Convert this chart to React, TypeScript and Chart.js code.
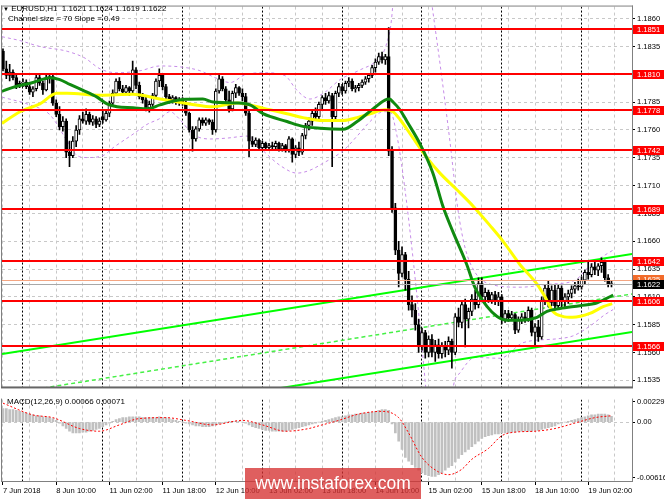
import React, { useEffect, useRef } from "react";
import { Chart, registerables } from "chart.js";

Chart.register(...registerables);

const FONT = '"Liberation Sans", Arial, sans-serif';

// ---------------- DATA (EURUSD H1, bar 0 = 7 Jun 18:00) ----------------
const openPrices = [
  1.1831, 1.1815, 1.1809, 1.1812, 1.1807, 1.18, 1.1802, 1.1803, 1.1799, 1.1794,
  1.1797, 1.1807, 1.1802, 1.1796, 1.1806, 1.1808, 1.1784, 1.1774, 1.1763, 1.1768,
  1.174, 1.1737, 1.175, 1.176, 1.177, 1.1768, 1.1774, 1.1767, 1.177, 1.1765,
  1.1772, 1.1769, 1.1775, 1.1784, 1.1793, 1.1804, 1.1797, 1.1794, 1.1798, 1.1795,
  1.1814, 1.18, 1.179, 1.1787, 1.178, 1.1783, 1.1791, 1.1804, 1.1809, 1.1799,
  1.179, 1.1787, 1.1789, 1.1785, 1.1787, 1.1784, 1.1775, 1.176, 1.1752, 1.1761,
  1.1769, 1.1766, 1.1769, 1.1767, 1.176, 1.1795, 1.1806, 1.1797, 1.1787, 1.1779,
  1.1793, 1.1798, 1.1793, 1.179, 1.1775, 1.175, 1.1747, 1.1751, 1.1744, 1.1748,
  1.1744, 1.1746, 1.1745, 1.1748, 1.1743, 1.1746, 1.1742, 1.1752, 1.1738, 1.1744,
  1.174, 1.1755, 1.1764, 1.1768, 1.1775, 1.1772, 1.1783, 1.1789, 1.1786, 1.1791,
  1.1772, 1.1793, 1.1799, 1.1795, 1.1802, 1.1804, 1.1797, 1.1798, 1.18, 1.1803,
  1.1806, 1.1809, 1.1816, 1.1821, 1.1826, 1.1823, 1.1826, 1.1741, 1.169, 1.1652,
  1.1631, 1.1648, 1.1626, 1.1603, 1.1598, 1.1585, 1.1566, 1.1578, 1.156, 1.1572,
  1.156, 1.1567, 1.1559, 1.1566, 1.1562, 1.157, 1.156, 1.1592, 1.1587, 1.1603,
  1.159, 1.1597, 1.1608, 1.1603, 1.1622, 1.161, 1.1614, 1.1607, 1.1612, 1.1606,
  1.161, 1.159, 1.1595, 1.1591, 1.1594, 1.158, 1.1589, 1.1592, 1.159, 1.1598,
  1.1578, 1.1583, 1.1574, 1.1607, 1.1618, 1.1605, 1.1616, 1.1602, 1.1618, 1.1606,
  1.161, 1.1613, 1.1617, 1.162, 1.1619, 1.1625, 1.1632, 1.163, 1.1637, 1.1634,
  1.1638, 1.1641, 1.1627, 1.1621,
];
const highPrices = [
  1.1833, 1.1822, 1.1819, 1.1814, 1.1811, 1.1804, 1.1806, 1.1805, 1.1801, 1.1799,
  1.181, 1.1809, 1.1804, 1.1809, 1.1811, 1.181, 1.1787, 1.1781, 1.1772, 1.177,
  1.175, 1.1754, 1.1764, 1.1773, 1.1776, 1.1779, 1.1776, 1.1773, 1.1772, 1.1771,
  1.1777, 1.1777, 1.1786, 1.1796, 1.1806, 1.1807, 1.18, 1.18, 1.1799, 1.1822,
  1.1816, 1.1803, 1.1793, 1.179, 1.1786, 1.1793, 1.1806, 1.1815, 1.1811, 1.1801,
  1.1792, 1.1791, 1.179, 1.1789, 1.1789, 1.1786, 1.1776, 1.1763, 1.1763, 1.1771,
  1.1771, 1.1771, 1.177, 1.1769, 1.1797, 1.1811, 1.1808, 1.1799, 1.1795, 1.1795,
  1.1801, 1.1799, 1.1797, 1.1793, 1.1777, 1.1754, 1.1753, 1.1752, 1.175, 1.1749,
  1.1748, 1.1749, 1.175, 1.1749, 1.1748, 1.1747, 1.1754, 1.1753, 1.1746, 1.1749,
  1.1757, 1.1766, 1.1771, 1.1777, 1.178, 1.1785, 1.1791, 1.1793, 1.1794, 1.1793,
  1.1795, 1.1802, 1.1801, 1.1804, 1.1807, 1.1806, 1.18, 1.1802, 1.1805, 1.1808,
  1.1811, 1.1818, 1.1824, 1.1829, 1.183, 1.1828, 1.1852, 1.1745, 1.1694, 1.166,
  1.1655, 1.165, 1.1633, 1.1611, 1.1604, 1.159, 1.1582, 1.158, 1.1575, 1.1576,
  1.1571, 1.1572, 1.1569, 1.157, 1.1574, 1.1572, 1.1595, 1.16, 1.1606, 1.1608,
  1.16, 1.1612, 1.1616, 1.1627, 1.1627, 1.1618, 1.1616, 1.1614, 1.1615, 1.1614,
  1.1612, 1.1598, 1.1598, 1.1597, 1.1595, 1.1592, 1.1595, 1.1596, 1.1601, 1.16,
  1.1586, 1.1589, 1.161, 1.1621, 1.1624, 1.162, 1.1621, 1.1621, 1.162, 1.1613,
  1.1616, 1.162, 1.1623, 1.1626, 1.1628, 1.1634, 1.1642, 1.164, 1.1641, 1.164,
  1.1645, 1.1643, 1.163, 1.1624,
];
const lowPrices = [
  1.1813, 1.1806, 1.1804, 1.1805, 1.1797, 1.1798, 1.1799, 1.1797, 1.1792, 1.179,
  1.1795, 1.18, 1.1792, 1.1795, 1.1802, 1.1782, 1.1772, 1.176, 1.1759, 1.1735,
  1.1727, 1.1735, 1.1745, 1.1756, 1.1766, 1.1765, 1.1765, 1.1764, 1.1762, 1.1763,
  1.1766, 1.1768, 1.1772, 1.1782, 1.1791, 1.1795, 1.1792, 1.1792, 1.1791, 1.1793,
  1.1797, 1.1788, 1.1784, 1.1777, 1.1776, 1.1779, 1.1789, 1.1799, 1.1796, 1.1788,
  1.1784, 1.1784, 1.1783, 1.1782, 1.1782, 1.1773, 1.1758, 1.1741, 1.175, 1.1759,
  1.1764, 1.1764, 1.1765, 1.1756, 1.1758, 1.1793, 1.1795, 1.1785, 1.1776, 1.1777,
  1.1789, 1.1791, 1.1786, 1.1773, 1.1736, 1.1745, 1.1745, 1.1742, 1.1742, 1.1742,
  1.1742, 1.1743, 1.1743, 1.1741, 1.1741, 1.174, 1.174, 1.1731, 1.1735, 1.1737,
  1.1738, 1.1752, 1.176, 1.1764, 1.1769, 1.177, 1.1779, 1.1783, 1.1784, 1.1727,
  1.177, 1.179, 1.1792, 1.1793, 1.1799, 1.1795, 1.1794, 1.1795, 1.1798, 1.1801,
  1.1803, 1.1807, 1.1812, 1.1819, 1.182, 1.1819, 1.1737, 1.1686, 1.1648, 1.1619,
  1.1628, 1.1616, 1.1598, 1.1592, 1.158, 1.156, 1.1562, 1.1555, 1.1556, 1.1556,
  1.1552, 1.1555, 1.1555, 1.1556, 1.1558, 1.1546, 1.1558, 1.1583, 1.1582, 1.1565,
  1.1582, 1.1593, 1.1599, 1.16, 1.1606, 1.1604, 1.1605, 1.1604, 1.1603, 1.1602,
  1.1586, 1.1587, 1.1588, 1.1589, 1.1577, 1.1578, 1.1586, 1.1587, 1.1588, 1.1575,
  1.1567, 1.157, 1.1572, 1.1603, 1.1601, 1.1602, 1.1598, 1.16, 1.1601, 1.16,
  1.1604, 1.1609, 1.1613, 1.1616, 1.1617, 1.1621, 1.1626, 1.1628, 1.163, 1.1629,
  1.1632, 1.1624, 1.1619, 1.1619,
];
const closePrices = [
  1.1815, 1.1809, 1.1812, 1.1807, 1.18, 1.1802, 1.1803, 1.1799, 1.1794, 1.1797,
  1.1807, 1.1802, 1.1796, 1.1806, 1.1808, 1.1784, 1.1774, 1.1763, 1.1768, 1.174,
  1.1737, 1.175, 1.176, 1.177, 1.1768, 1.1774, 1.1767, 1.177, 1.1765, 1.1768,
  1.1769, 1.1775, 1.1784, 1.1793, 1.1804, 1.1797, 1.1794, 1.1798, 1.1795, 1.1814,
  1.18, 1.179, 1.1787, 1.178, 1.1783, 1.1791, 1.1804, 1.1809, 1.1799, 1.179,
  1.1787, 1.1789, 1.1785, 1.1787, 1.1784, 1.1775, 1.176, 1.1752, 1.1761, 1.1769,
  1.1766, 1.1769, 1.1767, 1.176, 1.1795, 1.1806, 1.1797, 1.1787, 1.1779, 1.1793,
  1.1798, 1.1793, 1.179, 1.1775, 1.175, 1.1747, 1.1751, 1.1744, 1.1748, 1.1744,
  1.1746, 1.1745, 1.1748, 1.1743, 1.1746, 1.1742, 1.1752, 1.1738, 1.1744, 1.174,
  1.1755, 1.1764, 1.1768, 1.1775, 1.1772, 1.1783, 1.1789, 1.1786, 1.1791, 1.1772,
  1.1793, 1.1799, 1.1795, 1.1802, 1.1804, 1.1797, 1.1798, 1.18, 1.1803, 1.1806,
  1.1809, 1.1816, 1.1821, 1.1826, 1.1823, 1.1826, 1.1741, 1.169, 1.1652, 1.1631,
  1.1648, 1.1626, 1.1603, 1.1598, 1.1585, 1.1566, 1.1578, 1.156, 1.1572, 1.156,
  1.1567, 1.1559, 1.1566, 1.1562, 1.157, 1.156, 1.1592, 1.1587, 1.1603, 1.159,
  1.1597, 1.1608, 1.1603, 1.1622, 1.161, 1.1614, 1.1607, 1.1612, 1.1606, 1.161,
  1.159, 1.1595, 1.1591, 1.1594, 1.158, 1.1589, 1.1592, 1.159, 1.1598, 1.1578,
  1.1583, 1.1574, 1.1607, 1.1618, 1.1605, 1.1616, 1.1602, 1.1618, 1.1606, 1.161,
  1.1613, 1.1617, 1.162, 1.1619, 1.1625, 1.1632, 1.163, 1.1637, 1.1634, 1.1638,
  1.1641, 1.1627, 1.1621, 1.1622,
];

// MACD(12,26,9) main values (histogram), one per bar
const macdMain = [
  0.0015, 0.0015, 0.0014, 0.0014, 0.0013, 0.0012, 0.0011, 0.001, 0.0009, 0.0008,
  0.0007, 0.0007, 0.0006, 0.0006, 0.0005, 0.0004,
  0.0002, -0.0001, -0.0004, -0.0007, -0.001, -0.0012,
  -0.0012, -0.0012, -0.0011, -0.0011, -0.001,
  -0.0009, -0.0008, -0.0007, -0.0005, -0.0003, -0.0001,
  0.0001, 0.0003, 0.0004, 0.0005, 0.0005,
  0.0006, 0.0006, 0.0006, 0.0006, 0.0005, 0.0005, 0.0005, 0.0005, 0.0005, 0.0006, 0.0005, 0.0005,
  0.0004, 0.0003, 0.0002, 0.0001, 0.0, -0.0001,
  -0.0002, -0.0003, -0.0004, -0.0004, -0.0005, -0.0005, -0.0005, -0.0004,
  -0.0003, -0.0002, -0.0001, 0.0, 0.0001, 0.0001, 0.0001, 0.0001, 0.0,
  -0.0001, -0.0003, -0.0005, -0.0006, -0.0007, -0.0008, -0.0009,
  -0.0009, -0.001, -0.001, -0.001, -0.001, -0.001, -0.0009, -0.0008,
  -0.0007, -0.0006, -0.0005, -0.0004, -0.0003, -0.0002, -0.0001, 0.0,
  0.0001, 0.0002, 0.0003, 0.0004, 0.0005, 0.0006, 0.0006, 0.0007, 0.0008, 0.0008, 0.0009, 0.0009,
  0.001, 0.001, 0.0011, 0.0011, 0.0012, 0.0013, 0.0014, 0.0014, 0.0013,
  -0.0002, -0.0012, -0.0021, -0.003, -0.0039, -0.0043, -0.0047, -0.005, -0.0053, -0.0056, -0.0058, -0.0059, -0.006, -0.006,
  -0.0058, -0.0056, -0.0053, -0.005, -0.0048, -0.0044, -0.004, -0.0036, -0.0033, -0.003, -0.0027, -0.0024, -0.0021, -0.0018, -0.0016, -0.0015, -0.0014,
  -0.0013, -0.0013, -0.0012, -0.0012, -0.0012, -0.0011, -0.0011, -0.001, -0.001, -0.001, -0.001, -0.001,
  -0.0009, -0.0009, -0.0008, -0.0007, -0.0006, -0.0005, -0.0004, -0.0002,
  -0.0001, 0.0, 0.0001, 0.0002, 0.0003, 0.0004, 0.0005, 0.0006,
  0.0007, 0.0008, 0.0008, 0.0009, 0.0009, 0.0009, 0.0008, 0.00066,
];

// MACD signal line, read at [bar, value]
const macdSignal = [
  [0, 0.0021], [9, 0.0008], [15, 0.0005], [23, -0.0007], [29, -0.001], [35, -0.0003],
  [41, 0.0004], [49, 0.0005], [55, 0.0002], [63, -0.0003], [72, 0.0002], [78, -0.0003],
  [85, -0.001], [92, -0.0007], [95, -0.0004], [101, 0.0002], [107, 0.0009], [114, 0.0012],
  [119, 0.0005], [122, -0.0012], [126, -0.0039], [131, -0.0055], [134, -0.0058],
  [138, -0.0052], [141, -0.0041], [146, -0.0029], [150, -0.0015], [154, -0.0011],
  [160, -0.001], [166, -0.0007], [172, -0.0001], [178, 0.0005], [183, 0.00071],
];

// Moving averages read at [bar, price]
const maGreen = [
  [-0.3, 1.17948], [3.0, 1.17983], [9.0, 1.18026], [14.1, 1.1807], [17.1, 1.18053],
  [20.1, 1.18009], [24.1, 1.17956], [28.3, 1.17895], [31.3, 1.17834], [34.3, 1.17808],
  [39.1, 1.17799], [43.3, 1.1779], [47.2, 1.17825], [50.2, 1.17851], [55.0, 1.17875],
  [60.1, 1.17878], [63.2, 1.17851], [70.4, 1.17843], [74.3, 1.17825], [78.2, 1.17746],
  [85.4, 1.17676], [90.2, 1.17632], [95.3, 1.17615], [102.3, 1.17606], [106.5, 1.17676],
  [111.3, 1.1779], [114.9, 1.17869], [116.2, 1.17878], [117.3, 1.17851], [119.4, 1.17781],
  [121.5, 1.17676], [125.4, 1.17475], [129.3, 1.17212], [132.3, 1.16914], [135.3, 1.16686],
  [139.5, 1.16389], [141.9, 1.16187], [145.6, 1.16012], [148.6, 1.15924], [151.6, 1.1589],
  [155.5, 1.1589], [160.6, 1.15916], [163.6, 1.15969], [167.5, 1.15995], [173.5, 1.16021],
  [178.7, 1.16047], [183.5, 1.16117],
];
const maYellow = [
  [-0.3, 1.17659], [5.1, 1.17764], [11.1, 1.17834], [16.2, 1.1793], [19.3, 1.1793],
  [29.2, 1.17913], [39.1, 1.17921], [47.2, 1.17878], [56.2, 1.17834], [63.2, 1.17808],
  [70.4, 1.17843], [74.3, 1.17825], [80.3, 1.17781], [85.4, 1.17746], [90.2, 1.17711],
  [96.2, 1.17685], [102.3, 1.17685], [106.5, 1.17711], [110.4, 1.17746], [114.9, 1.17781],
  [117.3, 1.17764], [119.4, 1.17694], [123.3, 1.17528], [127.5, 1.17352], [131.4, 1.17212],
  [136.5, 1.17063], [141.4, 1.16915], [146.5, 1.1674], [150.4, 1.16599], [155.5, 1.16389],
  [160.6, 1.16214], [163.0, 1.161], [165.4, 1.15969], [168.3, 1.15925], [171.3, 1.15916],
  [176.5, 1.15951], [180.5, 1.16012], [183.2, 1.16039],
];

// Bollinger-style envelope (violet dashed), read at [bar, price]
const bandUpperA = [
  [-0.3, 1.18438], [5.1, 1.18403], [11.1, 1.1835], [19.3, 1.18307], [24.7, 1.18245],
  [29.2, 1.18149], [34.3, 1.18114], [41.2, 1.18132], [47.2, 1.18175], [53.2, 1.18167],
  [59.3, 1.18132], [63.8, 1.1807], [68.3, 1.18026], [72.8, 1.18096], [78.8, 1.18114],
  [84.8, 1.18088], [88.4, 1.17956], [92.3, 1.17878], [96.8, 1.17939], [101.4, 1.18053],
  [107.4, 1.1814], [112.5, 1.18228], [115.2, 1.18359], [117.0, 1.1864], [117.9, 1.19077],
];
const bandUpperB = [
  [127.5, 1.19077], [129.0, 1.18727], [131.4, 1.18202], [134.4, 1.17501], [136.8, 1.16888],
  [139.0, 1.16538], [142.0, 1.16319], [146.5, 1.16214], [155.5, 1.16187], [164.5, 1.16214],
  [172.0, 1.16249], [176.5, 1.1638], [181.1, 1.16477], [183.5, 1.1652],
];
const bandLowerA = [
  [-0.3, 1.17895], [8.1, 1.17825], [14.1, 1.17737], [19.3, 1.17501], [22.3, 1.1737],
  [25.3, 1.17352], [30.1, 1.1737], [33.1, 1.1744], [39.1, 1.17562], [43.3, 1.1765],
  [47.2, 1.17703], [50.2, 1.17764], [53.2, 1.17694], [57.1, 1.17562], [62.3, 1.17519],
  [67.4, 1.17527], [73.4, 1.17545], [78.2, 1.17414], [83.3, 1.17282], [88.4, 1.17212],
  [92.3, 1.17238], [96.2, 1.173], [102.3, 1.17414], [106.5, 1.17545], [110.4, 1.17676],
  [114.3, 1.17764], [116.4, 1.17764], [118.5, 1.17545], [120.9, 1.17063], [123.3, 1.1645],
  [125.4, 1.15837], [127.2, 1.15267], [128.4, 1.14873],
];
const bandLowerB = [
  [134.4, 1.14873], [135.3, 1.15267], [137.4, 1.15416], [142.0, 1.15556], [149.5, 1.15548],
  [156.4, 1.15688], [166.6, 1.15723], [171.4, 1.15749], [176.5, 1.15837], [181.1, 1.15942],
  [183.5, 1.15986],
];

// Regression channel (Channel size = 70, Slope = 0.49), ends at [bar, price]
const channelUpper = [[-0.3, 1.15586], [189.2, 1.16485]];
const channelMiddle = [[-0.3, 1.15221], [189.2, 1.16126]];
const channelLower = [[-0.3, 1.14881], [189.2, 1.15785]];

// Horizontal levels, quotes, axes
const levelPrices = [1.1851, 1.181, 1.1778, 1.1742, 1.1689, 1.1642, 1.1606, 1.1566];
const bidPrice = 1.1622;
const askPrice = 1.1625;
const priceTicks = [
  1.1535, 1.156, 1.1585, 1.161, 1.1635, 1.166, 1.1685, 1.171, 1.1735, 1.176, 1.1785,
  1.181, 1.1835, 1.186,
];
const macdTicks = [-0.00616, 0, 0.00229];
const macdTickLabels = ["-0.00616", "0.00", "0.00229"];
const timeTicks = [0, 16, 32, 48, 64, 80, 96, 112, 128, 144, 160, 176];
const timeLabels = [
  "7 Jun 2018", "8 Jun 10:00", "11 Jun 02:00", "11 Jun 18:00", "12 Jun 10:00",
  "13 Jun 02:00", "13 Jun 18:00", "14 Jun 10:00", "15 Jun 02:00", "15 Jun 18:00",
  "18 Jun 10:00", "19 Jun 02:00",
];
const daySeparators = [6, 30, 54, 78, 102, 126, 150, 174];
const headerText = "EURUSD,H1  1.1621 1.1624 1.1619 1.1622";
const channelText = "Channel size = 70 Slope = 0.49";
const macdText = "MACD(12,26,9) 0.00066 0.00071";
const watermarkText = "www.instaforex.com";

// ---------------- LAYOUT ----------------
const X_MIN = -0.3;
const X_MAX = 189.17;
const PRICE_MIN = 1.15286;
const PRICE_MAX = 1.18709;
const MACD_MIN = -0.0065;
const MACD_MAX = 0.0025;
const GRID_STEP = 8;
const AXIS_W = 33;
const TICK_FONT = { family: FONT, size: 7.6 };

const pts = (arr: number[][]) => arr.map(([x, y]) => ({ x, y }));

function gridTicks(scale: any) {
  const t: { value: number }[] = [];
  for (let v = 0; v <= closePrices.length; v += GRID_STEP) t.push({ value: v });
  scale.ticks = t;
}

function clipArea(ctx: any, a: any) {
  ctx.beginPath();
  ctx.rect(a.left, a.top, a.right - a.left, a.bottom - a.top);
  ctx.clip();
}

function drawSeparators(chart: any) {
  const { ctx, chartArea: a, scales } = chart;
  ctx.save();
  clipArea(ctx, a);
  ctx.strokeStyle = "#000";
  ctx.lineWidth = 1;
  ctx.setLineDash([2, 2]);
  for (const i of daySeparators) {
    const x = Math.floor(scales.x.getPixelForValue(i)) + 0.5;
    ctx.beginPath();
    ctx.moveTo(x, a.top);
    ctx.lineTo(x, a.bottom);
    ctx.stroke();
  }
  ctx.restore();
}

function tag(ctx: any, x: number, y: number, text: string, bg: string) {
  const yy = Math.round(y);
  ctx.fillStyle = bg;
  ctx.fillRect(x, yy - 4, 31, 9);
  ctx.fillStyle = "#fff";
  ctx.font = `7.6px ${FONT}`;
  ctx.textAlign = "left";
  ctx.textBaseline = "middle";
  ctx.fillText(text, x + 4, yy + 0.5);
}

const pricePlugin = {
  id: "pricePlugin",
  beforeDatasetsDraw: drawSeparators,
  afterDatasetsDraw(chart: any) {
    const { ctx, chartArea: a, scales } = chart;
    const ys = scales.y;
    ctx.save();
    clipArea(ctx, a);
    ctx.setLineDash([]);
    const hline = (p: number, color: string, w: number) => {
      const y = w % 2 ? Math.round(ys.getPixelForValue(p)) + 0.5 : Math.round(ys.getPixelForValue(p));
      ctx.strokeStyle = color;
      ctx.lineWidth = w;
      ctx.beginPath();
      ctx.moveTo(a.left, y);
      ctx.lineTo(a.right, y);
      ctx.stroke();
    };
    hline(askPrice, "#F4A582", 1);
    hline(bidPrice, "#A8A8A8", 1);
    for (const p of levelPrices) hline(p, "#FF0000", 2);
    ctx.restore();
  },
  afterDraw(chart: any) {
    const { ctx, chartArea: a, scales } = chart;
    const ys = scales.y;
    ctx.save();
    ctx.fillStyle = "#808080";
    ctx.fillRect(a.left - 1, a.top - 1, 1, a.bottom - a.top + 1);
    ctx.fillRect(a.right, a.top - 1, 1, a.bottom - a.top + 1);
    ctx.fillRect(a.left - 1, a.top - 1, a.right - a.left + 2, 1);
    ctx.fillStyle = "#666";
    ctx.fillRect(a.left - 1, a.bottom - 1, a.right - a.left + 2, 2);
    const x = a.right + 1;
    tag(ctx, x, ys.getPixelForValue(askPrice) - 1, askPrice.toFixed(4), "#F26B2A");
    tag(ctx, x, ys.getPixelForValue(bidPrice), bidPrice.toFixed(4), "#000");
    for (const p of levelPrices) tag(ctx, x, ys.getPixelForValue(p), p.toFixed(4), "#FF0000");
    ctx.restore();
  },
};

const macdPlugin = {
  id: "macdPlugin",
  beforeDatasetsDraw: drawSeparators,
  afterDraw(chart: any) {
    const { ctx, chartArea: a } = chart;
    ctx.save();
    ctx.fillStyle = "#808080";
    ctx.fillRect(a.left - 1, a.top - 1, 1, a.bottom - a.top + 2);
    ctx.fillRect(a.right, a.top - 1, 1, a.bottom - a.top + 2);
    ctx.fillRect(a.left - 1, a.bottom, a.right - a.left + 2, 1);
    ctx.restore();
  },
};

export default function App() {
  const priceRef = useRef<HTMLCanvasElement>(null);
  const macdRef = useRef<HTMLCanvasElement>(null);

  useEffect(() => {
    const idx = closePrices.map((_, i) => i);
    const lineDs = (data: number[][], color: string, width: number, order: number, extra: any = {}) => ({
      type: "line",
      data: pts(data),
      borderColor: color,
      borderWidth: width,
      pointRadius: 0,
      fill: false,
      cubicInterpolationMode: "monotone",
      order,
      ...extra,
    });
    const band = "rgb(198,140,232)";

    const priceChart = new Chart(priceRef.current as HTMLCanvasElement, {
      type: "bar",
      data: {
        datasets: [
          lineDs(bandUpperA, band, 1, 30, { borderDash: [3, 3] }),
          lineDs(bandUpperB, band, 1, 30, { borderDash: [3, 3] }),
          lineDs(bandLowerA, band, 1, 30, { borderDash: [3, 3] }),
          lineDs(bandLowerB, band, 1, 30, { borderDash: [3, 3] }),
          lineDs(channelUpper, "#00FF00", 2, 20, { cubicInterpolationMode: "default", tension: 0 }),
          lineDs(channelMiddle, "rgb(70,240,70)", 1.5, 20, { cubicInterpolationMode: "default", tension: 0, borderDash: [4, 3] }),
          lineDs(channelLower, "#00FF00", 2, 20, { cubicInterpolationMode: "default", tension: 0 }),
          {
            type: "bar",
            data: idx.map((i) => ({ x: i, y: [lowPrices[i], highPrices[i]] })),
            backgroundColor: "#000",
            borderWidth: 0,
            barThickness: 1,
            grouped: false,
            order: 12,
          },
          {
            type: "bar",
            data: idx.map((i) => ({
              x: i,
              y: [Math.min(openPrices[i], closePrices[i]), Math.max(openPrices[i], closePrices[i])],
            })),
            backgroundColor: idx.map((i) => (closePrices[i] >= openPrices[i] ? "#FFFFFF" : "#000000")),
            borderColor: "#000",
            borderWidth: 1,
            borderSkipped: false,
            barThickness: 3,
            minBarLength: 1,
            grouped: false,
            order: 11,
          },
          lineDs(maYellow, "#FFFF00", 3, 3),
          lineDs(maGreen, "#108A10", 3, 2),
        ] as any,
      },
      options: {
        responsive: false,
        maintainAspectRatio: false,
        animation: false,
        devicePixelRatio: 1,
        events: [],
        layout: { padding: { left: 2, right: 0, top: 2, bottom: 1 } },
        plugins: { legend: { display: false }, tooltip: { enabled: false }, title: { display: false } },
        scales: {
          x: {
            type: "linear",
            min: X_MIN,
            max: X_MAX,
            offset: false,
            afterBuildTicks: gridTicks,
            afterFit: (s: any) => { s.height = 0; },
            ticks: { display: false },
            grid: { color: "#C8C8C8", offset: false, drawTicks: false },
            border: { display: false, dash: [3, 3] },
          },
          y: {
            type: "linear",
            position: "right",
            min: PRICE_MIN,
            max: PRICE_MAX,
            beginAtZero: false,
            afterBuildTicks: (s: any) => { s.ticks = priceTicks.map((v) => ({ value: v })); },
            afterFit: (s: any) => { s.width = AXIS_W; },
            ticks: {
              autoSkip: false,
              padding: 2,
              color: "#000",
              font: TICK_FONT,
              callback: (v: any) => Number(v).toFixed(4),
            },
            grid: { color: "#C8C8C8", tickLength: 3, tickColor: "#000", tickBorderDash: [] },
            border: { display: false, dash: [3, 3] },
          },
        } as any,
      },
      plugins: [pricePlugin],
    } as any);

    const macdChart = new Chart(macdRef.current as HTMLCanvasElement, {
      type: "bar",
      data: {
        datasets: [
          {
            type: "bar",
            data: idx.map((i) => ({ x: i, y: macdMain[i] })),
            backgroundColor: "#C0C0C0",
            borderWidth: 0,
            barThickness: 2,
            grouped: false,
            order: 5,
          },
          lineDs(macdSignal, "#FF0000", 1, 1, { borderDash: [2, 2] }),
        ] as any,
      },
      options: {
        responsive: false,
        maintainAspectRatio: false,
        animation: false,
        devicePixelRatio: 1,
        events: [],
        layout: { padding: { left: 2, right: 0, top: 1, bottom: 0 } },
        plugins: { legend: { display: false }, tooltip: { enabled: false }, title: { display: false } },
        scales: {
          x: {
            type: "linear",
            min: X_MIN,
            max: X_MAX,
            offset: false,
            afterBuildTicks: gridTicks,
            afterFit: (s: any) => { s.height = 18; },
            ticks: {
              autoSkip: false,
              maxRotation: 0,
              minRotation: 0,
              align: "start",
              padding: 1,
              color: "#000",
              font: TICK_FONT,
              callback: (v: any) => {
                const k = timeTicks.indexOf(Number(v));
                return k >= 0 ? timeLabels[k] : "";
              },
            },
            grid: {
              color: "#C8C8C8",
              offset: false,
              drawTicks: true,
              tickLength: 4,
              tickBorderDash: [],
              tickColor: (c: any) => (c.tick && timeTicks.indexOf(c.tick.value) >= 0 ? "#000" : "rgba(0,0,0,0)"),
            },
            border: { display: false, dash: [3, 3] },
          },
          y: {
            type: "linear",
            position: "right",
            min: MACD_MIN,
            max: MACD_MAX,
            beginAtZero: false,
            afterBuildTicks: (s: any) => { s.ticks = macdTicks.map((v) => ({ value: v })); },
            afterFit: (s: any) => { s.width = AXIS_W; },
            ticks: {
              autoSkip: false,
              padding: 2,
              color: "#000",
              font: TICK_FONT,
              callback: (v: any) => {
                const k = macdTicks.indexOf(Number(v));
                return k >= 0 ? macdTickLabels[k] : "";
              },
            },
            grid: {
              color: (c: any) => (c.tick && c.tick.value === 0 ? "#C8C8C8" : "rgba(0,0,0,0)"),
              tickLength: 3,
              tickColor: "#000",
              tickBorderDash: [],
            },
            border: { display: false, dash: [3, 3] },
          },
        } as any,
      },
      plugins: [macdPlugin],
    } as any);

    return () => {
      priceChart.destroy();
      macdChart.destroy();
    };
  }, []);

  const textStyle: any = {
    position: "absolute",
    font: `8px ${FONT}`,
    lineHeight: "10px",
    color: "#000",
    whiteSpace: "pre",
  };

  return (
    <div
      style={{
        position: "fixed",
        left: 0,
        top: 0,
        width: 665,
        height: 499,
        background: "#fff",
        overflow: "hidden",
      }}
    >
      <canvas ref={priceRef} width={665} height={394} style={{ position: "absolute", left: 0, top: 0 }} />
      <canvas ref={macdRef} width={665} height={106} style={{ position: "absolute", left: 0, top: 393 }} />
      <div style={{ ...textStyle, left: 3, top: 3.5 }}>
        <span style={{ fontSize: 6 }}>▼</span> {headerText}
      </div>
      <div style={{ ...textStyle, left: 8, top: 14.3 }}>{channelText}</div>
      <div style={{ ...textStyle, left: 7, top: 396.7 }}>{macdText}</div>
      <div
        style={{
          position: "absolute",
          left: 245,
          top: 468,
          width: 176,
          height: 31,
          background: "rgba(214,50,50,0.78)",
          color: "#fff",
          font: `17.5px ${FONT}`,
          lineHeight: "31px",
          textAlign: "center",
          whiteSpace: "pre",
        }}
      >
        {watermarkText}
      </div>
    </div>
  );
}
